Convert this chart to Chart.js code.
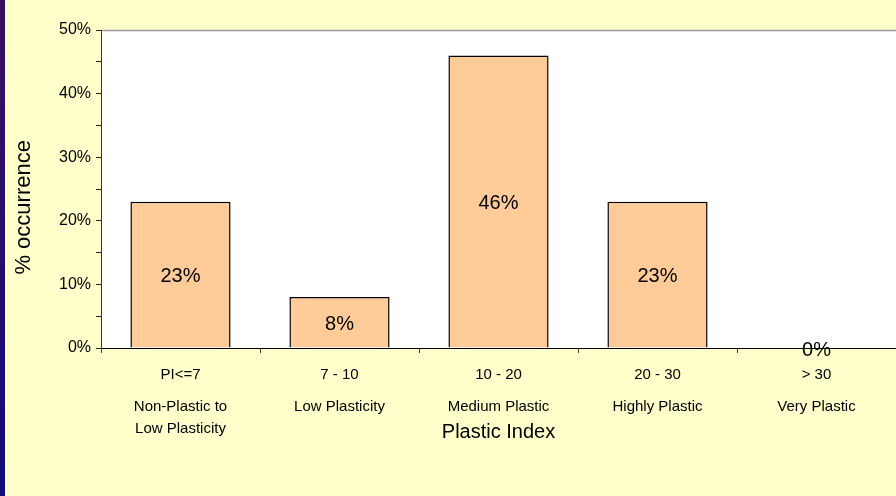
<!DOCTYPE html>
<html>
<head>
<meta charset="utf-8">
<script src="https://cdn.jsdelivr.net/npm/chart.js@4"></script>
<style>
  html, body { margin: 0; padding: 0; }
  body { width: 896px; height: 496px; background: #ffffcc; position: relative; overflow: hidden; }
  #strip { position: absolute; left: 0; top: 0; width: 5px; height: 496px; background: linear-gradient(#3a1060, #120c78); z-index: 2; }
  #wrap { position: absolute; left: 0; top: 0; width: 896px; height: 496px; }
</style>
</head>
<body>
<div id="strip"></div>
<div id="wrap"><canvas id="myChart"></canvas></div>
<script>
var ranges = ["PI<=7", "7 - 10", "10 - 20", "20 - 30", "> 30"];
var classes = [["Non-Plastic to", "Low Plasticity"], "Low Plasticity", "Medium Plastic", "Highly Plastic", "Very Plastic"];
var occurrence = [23, 8, 46, 23, 0];
var yTicks = [0, 10, 20, 30, 40, 50];

var FONT = "'Liberation Sans', Arial, sans-serif";

// white plot area with a grey top edge
var plotArea = {
  id: "plotArea",
  beforeDraw: function (chart) {
    var ctx = chart.ctx, a = chart.chartArea;
    ctx.save();
    ctx.fillStyle = "#ffffff";
    ctx.fillRect(a.left, a.top, a.right - a.left, a.bottom - a.top);
    ctx.strokeStyle = "#999999";
    ctx.lineWidth = 1.5;
    ctx.beginPath();
    ctx.moveTo(a.left, a.top + 0.5);
    ctx.lineTo(a.right, a.top + 0.5);
    ctx.stroke();
    ctx.restore();
  }
};

// percentage written in the middle of each bar
var barLabels = {
  id: "barLabels",
  afterDatasetsDraw: function (chart) {
    var ctx = chart.ctx;
    var meta = chart.getDatasetMeta(0);
    ctx.save();
    ctx.font = "20px " + FONT;
    ctx.fillStyle = "#000";
    ctx.textAlign = "center";
    ctx.textBaseline = "middle";
    meta.data.forEach(function (bar, i) {
      var v = chart.data.datasets[0].data[i];
      ctx.fillText(Math.round(v) + "%", bar.x, (bar.y + bar.base) / 2 + 2);
    });
    ctx.restore();
  }
};

new Chart(document.getElementById("myChart"), {
  type: "bar",
  data: {
    labels: ranges,
    datasets: [{
      data: occurrence,
      backgroundColor: "#ffcc99",
      borderColor: "#000000",
      borderWidth: 1.5,
      barPercentage: 0.63,
      categoryPercentage: 1
    }]
  },
  options: {
    responsive: true,
    maintainAspectRatio: false,
    animation: false,
    layout: { padding: { top: 30, right: 0, left: 0, bottom: 0 } },
    plugins: { legend: { display: false }, tooltip: { enabled: false } },
    scales: {
      x: {
        offset: true,
        grid: { offset: true, drawOnChartArea: false, drawTicks: true, tickLength: 5, color: "#444" },
        border: { display: true, color: "#000", width: 1 },
        ticks: { font: { family: FONT, size: 15 }, color: "#000", padding: 13, maxRotation: 0 },
        afterFit: function (s) { s.height = 40; }
      },
      x2: {
        type: "category",
        position: "bottom",
        labels: classes,
        offset: true,
        grid: { display: false, drawTicks: false },
        border: { display: false },
        ticks: { font: { family: FONT, size: 15, lineHeight: 1.47 }, color: "#000", padding: 8, maxRotation: 0 },
        title: {
          display: true,
          text: "Plastic Index",
          font: { family: FONT, size: 20 },
          color: "#000",
          padding: { top: 0, bottom: 52 }
        },
        afterFit: function (s) { s.height = 108; }
      },
      y: {
        min: 0,
        max: 50,
        grid: { drawOnChartArea: false, drawTicks: true, tickLength: 5, color: "#222" },
        border: { display: true, color: "#333", width: 1 },
        ticks: {
          stepSize: 5,
          font: { family: FONT, size: 16 },
          color: "#000",
          padding: 5,
          callback: function (v) { return yTicks.indexOf(v) >= 0 ? v + "%" : ""; }
        },
        title: {
          display: true,
          // trailing spaces push the caption a little below the axis middle
          text: "% occurrence      ",
          font: { family: FONT, size: 22 },
          color: "#000",
          padding: { top: 11, bottom: 0 }
        },
        afterFit: function (s) { s.width = 101; }
      }
    }
  },
  plugins: [plotArea, barLabels]
});
</script>
</body>
</html>
